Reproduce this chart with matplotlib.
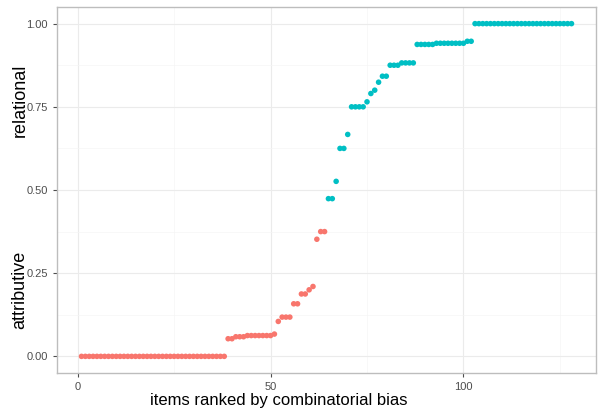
import matplotlib
matplotlib.use("Agg")
import matplotlib.pyplot as plt
from matplotlib.ticker import MultipleLocator

plt.rcParams['font.family'] = ['Liberation Sans', 'DejaVu Sans']

# bias score per item, runs of (value, count), items ranked 1..128
runs = [
    (0.0, 38), (0.053, 2), (0.059, 3), (0.0625, 7), (0.067, 1),
    (0.105, 1), (0.118, 3), (0.158, 2), (0.1875, 2), (0.2, 1), (0.21, 1),
    (0.352, 1), (0.375, 2),
    (0.474, 2), (0.526, 1), (0.625, 2), (0.667, 1), (0.75, 4),
    (0.765, 1), (0.79, 1), (0.8, 1), (0.824, 1), (0.842, 2),
    (0.875, 3), (0.882, 4), (0.9375, 5), (0.941, 8), (0.947, 2), (1.0, 26),
]
scores = [v for v, n in runs for _ in range(n)]
ranks = list(range(1, len(scores) + 1))
groups = ["attributive"] * 64 + ["relational"] * 64
palette = {"attributive": "#F8766D", "relational": "#00BFC4"}

fig = plt.figure(figsize=(6.04, 4.17), dpi=100)
ax = fig.add_axes([57 / 604, 44 / 417, 539 / 604, 366 / 417])

ax.scatter(ranks, scores, c=[palette[g] for g in groups], s=16,
           linewidths=0, zorder=3)

ax.set_xlim(1 - 0.05 * 127, 128 + 0.05 * 127)
ax.set_ylim(-0.05, 1.05)
ax.xaxis.set_major_locator(MultipleLocator(50))
ax.xaxis.set_minor_locator(MultipleLocator(25))
ax.yaxis.set_minor_locator(MultipleLocator(0.125))
ax.set_yticks([0, 0.25, 0.5, 0.75, 1.0])
ax.set_yticklabels(["0.00", "0.25", "0.50", "0.75", "1.00"])

ax.grid(which="major", color="#EBEBEB", linewidth=0.8, zorder=0)
ax.grid(which="minor", color="#F5F5F5", linewidth=0.5, zorder=0)
ax.set_axisbelow(True)
for s in ax.spines.values():
    s.set_color("#BDBDBD")
    s.set_linewidth(1.0)
ax.tick_params(which="major", colors="#4D4D4D", labelsize=8, length=3,
               width=0.8, labelcolor="#4D4D4D")
ax.tick_params(which="minor", length=0)

fig.text(0.462, 0.04, "items ranked by combinatorial bias", fontsize=12,
         ha="center", va="center")
fig.text(0.033, 1 - 100 / 417, "relational", fontsize=13, rotation=90,
         ha="center", va="center")
fig.text(0.033, 1 - 290 / 417, "attributive", fontsize=13, rotation=90,
         ha="center", va="center")

fig.savefig("out.png", dpi=100)
